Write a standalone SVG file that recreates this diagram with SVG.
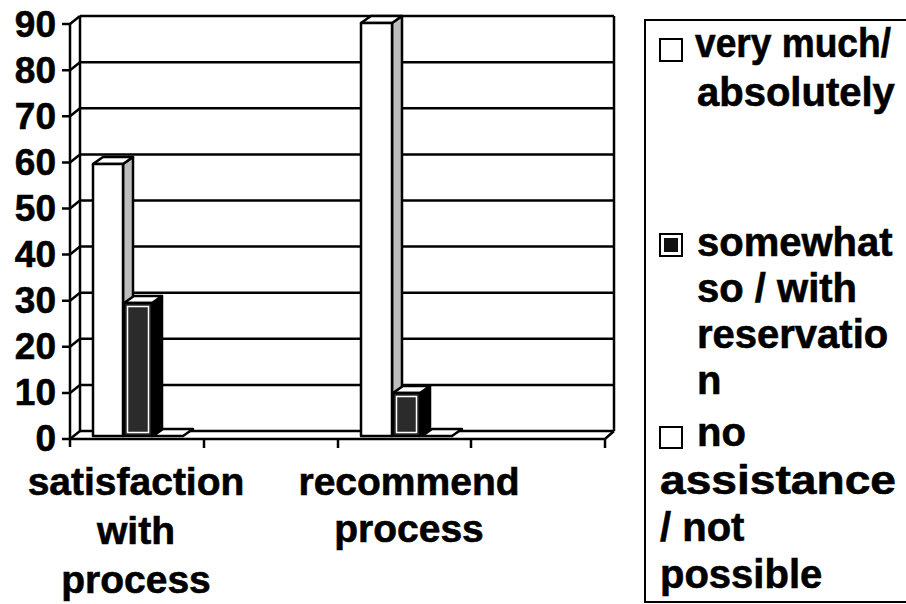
<svg xmlns="http://www.w3.org/2000/svg" width="906" height="604" viewBox="0 0 906 604">
<style>
.t{font-family:"Liberation Sans",Arial,sans-serif;font-weight:bold;font-size:40px;fill:#000;stroke:#000;stroke-width:0.6}
.ax{font-family:"Liberation Sans",Arial,sans-serif;font-weight:bold;font-size:37px;fill:#000;stroke:#000;stroke-width:0.6;text-anchor:end}
.cl{font-family:"Liberation Sans",Arial,sans-serif;font-weight:bold;font-size:39px;fill:#000;stroke:#000;stroke-width:0.6;text-anchor:middle}
.g{stroke:#000;stroke-width:2.5;fill:none}
.face{stroke:#000;stroke-width:2.5;stroke-linejoin:round}
</style>
<rect width="906" height="604" fill="#fff"/>
<g id="walls" class="g">
<path d="M80 16V431M614 16V431M70 24V447"/>
<path d="M80 16.1H614M80 62.2H614M80 108.3H614M80 154.4H614M80 200.5H614M80 246.6H614M80 292.7H614M80 338.8H614M80 384.9H614M80 431H614"/>
<path d="M70 24.1L80 16.1M70 70.2L80 62.2M70 116.3L80 108.3M70 162.4L80 154.4M70 208.5L80 200.5M70 254.6L80 246.6M70 300.7L80 292.7M70 346.8L80 338.8M70 392.9L80 384.9M70 439L80 431"/>
<path d="M70 439H605L614 431"/>
<path d="M62 24.1H70M62 70.2H70M62 116.3H70M62 162.4H70M62 208.5H70M62 254.6H70M62 300.7H70M62 346.8H70M62 392.9H70M62 439H70"/>
<path d="M204 439V448M338 439V448M471 439V448M605 439V448"/>
</g>
<g id="yaxis-labels">
<text class="ax" x="56" y="37">90</text>
<text class="ax" x="56" y="83">80</text>
<text class="ax" x="56" y="129">70</text>
<text class="ax" x="56" y="175">60</text>
<text class="ax" x="56" y="221">50</text>
<text class="ax" x="56" y="267">40</text>
<text class="ax" x="56" y="313">30</text>
<text class="ax" x="56" y="359">20</text>
<text class="ax" x="56" y="405">10</text>
<text class="ax" x="56" y="451">0</text>
</g>
<g id="bar-satisfaction-very">
<polygon class="face" fill="#bdbdbd" points="123,164 133,157 133,429 123,436"/>
<polygon class="face" fill="#fff" points="93,164 103,157 133,157 123,164"/>
<rect class="face" fill="#fff" x="93" y="164" width="30" height="272"/>
</g>
<g id="bar-satisfaction-somewhat">
<polygon class="face" fill="#000" points="152,303 162,296 162,429 152,436"/>
<polygon class="face" fill="#fff" points="124,303 134,296 162,296 152,303"/>
<rect class="face" fill="#2b2b2b" x="124" y="303" width="28" height="133"/>
<rect x="127.5" y="306.5" width="21" height="126" fill="none" stroke="#fff" stroke-width="1.5"/>
</g>
<g id="bar-satisfaction-no">
<polygon class="face" fill="#fff" points="153,436 183,436 193,429 163,429"/>
</g>
<g id="bar-recommend-very">
<polygon class="face" fill="#bdbdbd" points="392,23 402,16 402,429 392,436"/>
<polygon class="face" fill="#fff" points="361,23 371,16 402,16 392,23"/>
<rect class="face" fill="#fff" x="361" y="23" width="31" height="413"/>
</g>
<g id="bar-recommend-somewhat">
<polygon class="face" fill="#000" points="420,393 430,386 430,429 420,436"/>
<polygon class="face" fill="#fff" points="393,393 403,386 430,386 420,393"/>
<rect class="face" fill="#2b2b2b" x="393" y="393" width="27" height="43"/>
<rect x="396.5" y="396.5" width="20" height="36" fill="none" stroke="#fff" stroke-width="1.5"/>
</g>
<g id="bar-recommend-no">
<polygon class="face" fill="#fff" points="422,436 452,436 462,429 432,429"/>
</g>
<g id="category-labels">
<text class="cl" x="136" y="495">satisfaction</text>
<text class="cl" x="136" y="544">with</text>
<text class="cl" x="136" y="593">process</text>
<text class="cl" x="409" y="495">recommend</text>
<text class="cl" x="409" y="542">process</text>
</g>
<g id="legend">
<rect x="645" y="20" width="280" height="582" fill="none" stroke="#000" stroke-width="2"/>
<rect x="660" y="39" width="22" height="22" fill="#fff" stroke="#000" stroke-width="2"/>
<text class="t" x="695" y="57" textLength="196" lengthAdjust="spacingAndGlyphs">very much/</text>
<text class="t" x="697" y="106">absolutely</text>
<rect x="660" y="234" width="22" height="22" fill="#fff" stroke="#000" stroke-width="2"/>
<rect x="664" y="238" width="14" height="14" fill="#111"/>
<text class="t" x="697" y="256">somewhat</text>
<text class="t" x="697" y="302">so / with</text>
<text class="t" x="697" y="348">reservatio</text>
<text class="t" x="697" y="394">n</text>
<rect x="660" y="427" width="22" height="21" fill="#fff" stroke="#000" stroke-width="2"/>
<text class="t" x="697" y="446">no</text>
<text class="t" x="660" y="494" textLength="236" lengthAdjust="spacingAndGlyphs">assistance</text>
<text class="t" x="660" y="541">/ not</text>
<text class="t" x="660" y="588">possible</text>
</g>
</svg>
